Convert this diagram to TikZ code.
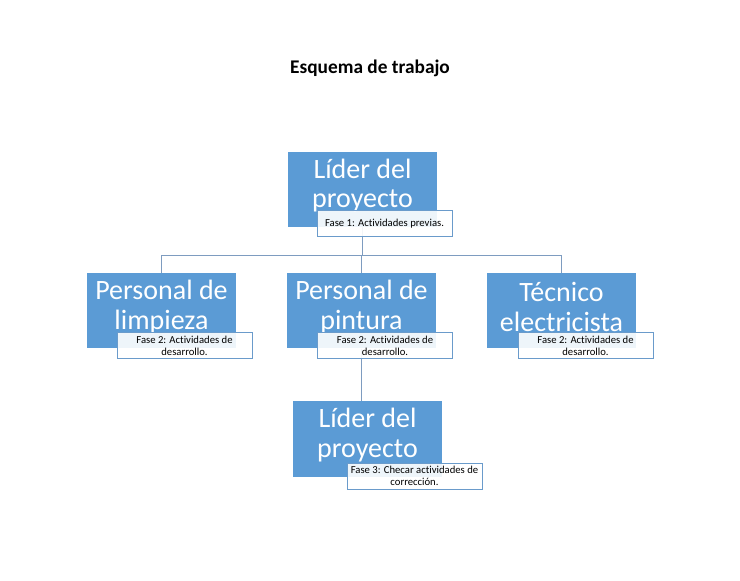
\documentclass[tikz,border=0pt]{standalone}
\usepackage{fontspec}
\setmainfont{Carlito}[Ligatures=NoCommon]
\definecolor{boxblue}{HTML}{5B9BD5}
\definecolor{linkblue}{HTML}{7E9CC0}
\definecolor{lblborder}{HTML}{6A9BCB}
\begin{document}
\begin{tikzpicture}[x=0.75pt,y=-0.75pt,
  rolebox/.style={fill=boxblue,draw=none,minimum width=111.75pt,minimum height=56.25pt,
    inner sep=0pt},
  roletext/.style={text=white,align=center,inner sep=0pt,yshift=3pt,
    font=\fontsize{21}{22}\selectfont},
  phasebox/.style={fill=white,fill opacity=0.9,text opacity=1,draw=lblborder,line width=0.75pt,
    minimum width=101.25pt,minimum height=19.5pt,inner sep=0pt,align=center,
    font=\fontsize{8}{8.5}\selectfont},
  link/.style={draw=linkblue,line width=0.9pt}]
\useasboundingbox[fill=white] (0,0) rectangle (740,581);
\node[font=\bfseries\fontsize{14.5}{16}\selectfont] (title) at (370,68) {Esquema de trabajo};
\coordinate (bus) at (362,255.5);
% boxes
\node[rolebox] (top) at (362.5,189.5) {};
\node[rolebox] (left) at (161.5,311) {};
\node[rolebox] (mid) at (361.5,311) {};
\node[rolebox] (right) at (561.5,311) {};
\node[rolebox] (bot) at (367.5,439) {};
\node[roletext] (toptext) at (top) {Líder del\\proyecto};
\node[roletext] (lefttext) at (left) {Personal de\\limpieza};
\node[roletext] (midtext) at (mid) {Personal de\\pintura};
\node[roletext] (righttext) at (right) {Técnico\\electricista};
\node[roletext] (bottext) at (bot) {Líder del\\proyecto};
% connectors
\draw[link] (top.south) -- (top.south |- bus);
\draw[link] (left.north) -- (left.north |- bus) -- (right.north |- bus) -- (right.north);
\draw[link] (mid.north) -- (mid.north |- bus);
\draw[link] (mid.south) -- (mid.south |- bot.north);
% phase labels
\node[phasebox] (ptop) at (384.5,224) {Fase 1: Actividades previas.};
\node[phasebox] (pleft) at (184.5,346) {Fase 2: Actividades de\\desarrollo.};
\node[phasebox] (pmid) at (385,346) {Fase 2: Actividades de\\desarrollo.};
\node[phasebox] (pright) at (585.5,346) {Fase 2: Actividades de\\desarrollo.};
\node[phasebox] (pbot) at (414.5,476) {Fase 3: Checar actividades de\\corrección.};
\end{tikzpicture}
\end{document}
